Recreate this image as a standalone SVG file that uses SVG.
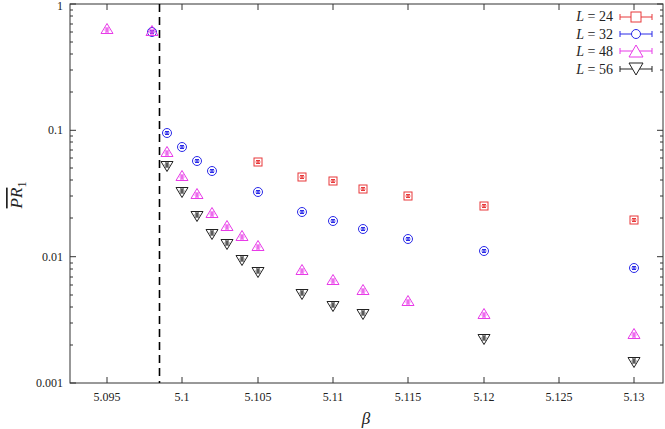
<svg xmlns="http://www.w3.org/2000/svg" width="665" height="429" viewBox="0 0 665 429">
<style>
text{font-family:"Liberation Serif",serif;font-size:12px;fill:#222}
.ax{stroke:#333;stroke-width:1;fill:none}
.r{stroke:#e8393a;fill:none;stroke-width:1}
.b{stroke:#2a2ae8;fill:none;stroke-width:1}
.m{stroke:#e83ae8;fill:none;stroke-width:1}
.k{stroke:#222;fill:none;stroke-width:1}
.lg{font-size:14px}
</style>
<defs>
<g id="sq"><rect x="-4" y="-4" width="8" height="8"/><path d="M-2.5 0H2.5M0 -1.5V1.5M-2 -1.5H2M-2 1.5H2"/></g>
<g id="ci"><circle r="4.5"/><path d="M-2.5 0H2.5M0 -1.5V1.5M-2 -1.5H2M-2 1.5H2"/></g>
<g id="tu"><path d="M0 -5.5L6 4.5H-6Z"/><path d="M-2.5 1H2.5M0 -1V3M-2 -1H2M-2 3H2"/></g>
<g id="td"><path d="M0 5.5L6 -4.5H-6Z"/><path d="M-2.5 -1H2.5M0 -3V1M-2 -3H2M-2 1H2"/></g>
</defs>
<g id="axes" class="ax">
<rect x="70" y="4" width="593" height="379"/>
<path d="M107 383v-6M182 383v-6M258 383v-6M333 383v-6M408 383v-6M484 383v-6M559 383v-6M634 383v-6M107 4v6M182 4v6M258 4v6M333 4v6M408 4v6M484 4v6M559 4v6M634 4v6"/>
<path d="M70 4h6M70 130.3h6M70 256.7h6M70 383h6M663 4h-6M663 130.3h-6M663 256.7h-6"/>
<path d="M70 345h3M70 323h3M70 307h3M70 295h3M70 285h3M70 277h3M70 269h3M70 263h3M70 218h3M70 196h3M70 180h3M70 168h3M70 158h3M70 150h3M70 142h3M70 136h3M70 92h3M70 70h3M70 54h3M70 42h3M70 32h3M70 24h3M70 16h3M70 10h3"/>
<path d="M663 345h-3M663 323h-3M663 307h-3M663 295h-3M663 285h-3M663 277h-3M663 269h-3M663 263h-3M663 218h-3M663 196h-3M663 180h-3M663 168h-3M663 158h-3M663 150h-3M663 142h-3M663 136h-3M663 92h-3M663 70h-3M663 54h-3M663 42h-3M663 32h-3M663 24h-3M663 16h-3M663 10h-3"/>
</g>
<g id="labels">
<text x="63" y="10" text-anchor="end">1</text>
<text x="63" y="134" text-anchor="end">0.1</text>
<text x="63" y="261" text-anchor="end">0.01</text>
<text x="63" y="387" text-anchor="end">0.001</text>
<text x="107" y="401" text-anchor="middle">5.095</text>
<text x="182" y="401" text-anchor="middle">5.1</text>
<text x="258" y="401" text-anchor="middle">5.105</text>
<text x="333" y="401" text-anchor="middle">5.11</text>
<text x="408" y="401" text-anchor="middle">5.115</text>
<text x="484" y="401" text-anchor="middle">5.12</text>
<text x="559" y="401" text-anchor="middle">5.125</text>
<text x="634" y="401" text-anchor="middle">5.13</text>
<text x="366" y="424" text-anchor="middle" style="font-style:italic;font-size:17px">β</text>
<text transform="translate(22 195) rotate(-90)" text-anchor="middle" style="font-style:italic;font-size:17px"><tspan text-decoration="overline">PR</tspan><tspan font-style="normal" font-size="12" dy="4">1</tspan></text>
</g>
<g id="dashed"><path d="M159.5 4V383" stroke="#000" stroke-width="1.6" stroke-dasharray="8,5"/></g>
<g id="L24" class="r">
<use href="#sq" x="258" y="162"/><use href="#sq" x="302" y="177"/><use href="#sq" x="333" y="181"/><use href="#sq" x="363" y="189"/><use href="#sq" x="408" y="196"/><use href="#sq" x="484" y="206"/><use href="#sq" x="634" y="220"/>
</g>
<g id="L32" class="b">
<use href="#ci" x="152" y="32"/><use href="#ci" x="167" y="133"/><use href="#ci" x="182" y="147"/><use href="#ci" x="197" y="161"/><use href="#ci" x="212" y="171"/><use href="#ci" x="258" y="192"/><use href="#ci" x="302" y="212"/><use href="#ci" x="333" y="221"/><use href="#ci" x="363" y="229"/><use href="#ci" x="408" y="239"/><use href="#ci" x="484" y="251"/><use href="#ci" x="634" y="268"/>
</g>
<g id="L48" class="m">
<use href="#tu" x="107" y="29"/><use href="#tu" x="152" y="31"/><use href="#tu" x="167" y="152"/><use href="#tu" x="182" y="176"/><use href="#tu" x="197" y="194"/><use href="#tu" x="212" y="213"/><use href="#tu" x="227" y="226"/><use href="#tu" x="242" y="236"/><use href="#tu" x="258" y="246"/><use href="#tu" x="302" y="270"/><use href="#tu" x="333" y="280"/><use href="#tu" x="363" y="290"/><use href="#tu" x="408" y="301"/><use href="#tu" x="484" y="314"/><use href="#tu" x="634" y="334"/>
</g>
<g id="L56" class="k">
<use href="#td" x="167" y="166"/><use href="#td" x="182" y="192"/><use href="#td" x="197" y="216"/><use href="#td" x="212" y="234"/><use href="#td" x="227" y="244"/><use href="#td" x="242" y="260"/><use href="#td" x="258" y="272"/><use href="#td" x="302" y="294"/><use href="#td" x="333" y="306"/><use href="#td" x="363" y="314"/><use href="#td" x="484" y="339"/><use href="#td" x="634" y="362"/>
</g>
<g id="legend">
<text class="lg" x="613" y="21" text-anchor="end"><tspan font-style="italic">L</tspan> = 24</text>
<text class="lg" x="613" y="39" text-anchor="end"><tspan font-style="italic">L</tspan> = 32</text>
<text class="lg" x="613" y="56" text-anchor="end"><tspan font-style="italic">L</tspan> = 48</text>
<text class="lg" x="613" y="74" text-anchor="end"><tspan font-style="italic">L</tspan> = 56</text>
<g class="r"><path d="M620 17h32M620 14v6M652 14v6"/><rect x="631" y="12" width="10" height="10" fill="#fff"/></g>
<g class="b"><path d="M620 34h32M620 31v6M652 31v6"/><circle cx="636" cy="34" r="4.5" fill="#fff"/></g>
<g class="m"><path d="M620 51h32M620 48v6M652 48v6"/><path d="M636 45L643 57H629Z" fill="#fff"/></g>
<g class="k"><path d="M620 69h32M620 66v6M652 66v6"/><path d="M636 75L643 63H629Z" fill="#fff"/></g>
</g>
</svg>
